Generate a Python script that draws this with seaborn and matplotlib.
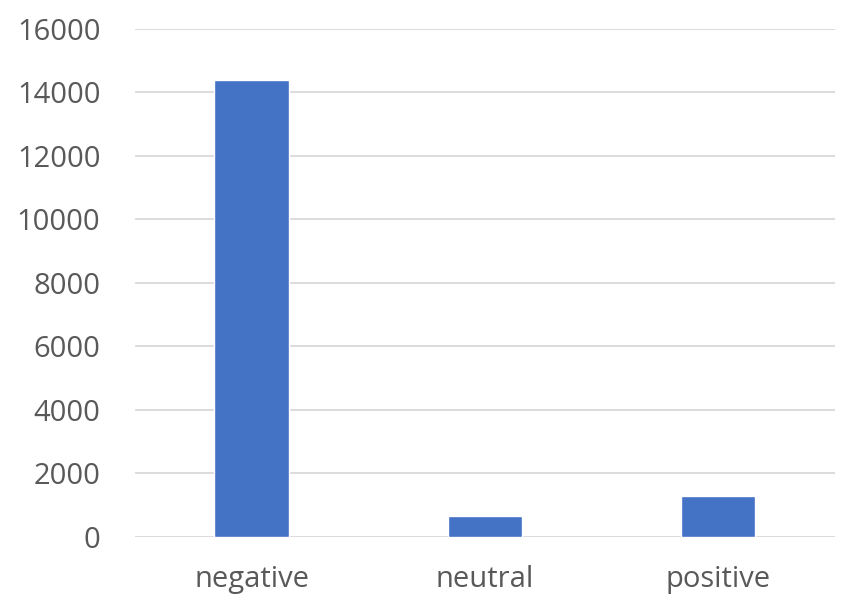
import matplotlib
matplotlib.use("Agg")
import matplotlib.pyplot as plt
import seaborn as sns
import pandas as pd

categories = ["negative", "neutral", "positive"]
counts = [14400, 660, 1300]
y_ticks = [0, 2000, 4000, 6000, 8000, 10000, 12000, 14000, 16000]

df = pd.DataFrame({"sentiment": categories, "count": counts})

sns.set_style("white")
plt.rcParams["font.family"] = ["Open Sans", "DejaVu Sans"]

fig = plt.figure(figsize=(8.5, 6.15), dpi=100)
ax = fig.add_axes([0.159, 0.127, 0.823, 0.826])
sns.barplot(data=df, x="sentiment", y="count", color="#4472C4", width=0.32,
            saturation=1, ax=ax, zorder=3)

ax.set_ylim(0, 16000)
ax.set_yticks(y_ticks)
ax.set_xlim(-0.5, 2.5)
ax.grid(axis="y", color="#d9d9d9", linewidth=1.3, zorder=0)
for s in ax.spines.values():
    s.set_visible(False)
ax.tick_params(axis="both", length=0, labelsize=21, colors="#595959")
ax.tick_params(axis="y", pad=25)
ax.tick_params(axis="x", pad=20)
ax.set_xlabel("")
ax.set_ylabel("")

fig.savefig("out.png", dpi=100)
